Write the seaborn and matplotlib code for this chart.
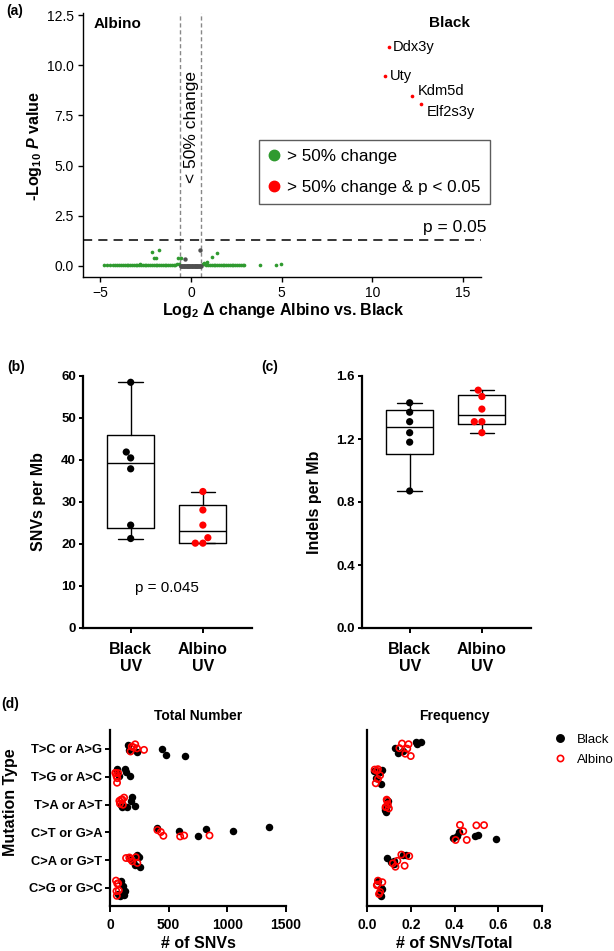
import numpy as np
import pandas as pd
import matplotlib
matplotlib.use("Agg")
import matplotlib.pyplot as plt
from matplotlib.lines import Line2D
import seaborn as sns

# ---------------- data ----------------
# (a) volcano plot
green_x = [-4.77, -4.62, -4.47, -4.30, -4.18, -4.05, -3.96, -3.85,
           -3.75, -3.65, -3.55, -3.45, -3.35, -3.25, -3.15, -3.05, -2.95, -2.85,
           -2.75, -2.65, -2.55, -2.45, -2.35, -2.25, -2.15, -2.05, -1.95, -1.85,
           -1.75, -1.65, -1.55, -1.45, -1.35, -1.25, -1.15, -1.05, -0.95, -0.85,
           -0.75, -0.65,
           0.65, 0.75, 0.85, 0.95, 1.05, 1.15, 1.25, 1.35, 1.45, 1.55, 1.65, 1.75,
           1.85, 1.95, 2.05, 2.15, 2.25, 2.35, 2.45, 2.55, 2.65, 2.75, 2.85, 2.92,
           -2.80, -2.12, -1.75, -2.02, -1.92, -0.70, -0.55, 0.70, 0.88, 1.16, 1.42,
           3.83, 4.71, 4.99]
green_y = [0.03, 0.03, 0.03, 0.03, 0.03, 0.03, 0.03, 0.03,
           0.03, 0.03, 0.03, 0.03, 0.03, 0.03, 0.03, 0.03, 0.03, 0.03,
           0.03, 0.03, 0.03, 0.03, 0.03, 0.03, 0.03, 0.03, 0.03, 0.03,
           0.03, 0.03, 0.03, 0.03, 0.03, 0.03, 0.03, 0.03, 0.03, 0.03,
           0.08, 0.10,
           0.10, 0.12, 0.03, 0.03, 0.03, 0.03, 0.03, 0.03, 0.03, 0.03, 0.03, 0.03,
           0.03, 0.03, 0.03, 0.03, 0.03, 0.03, 0.03, 0.03, 0.03, 0.03, 0.03, 0.03,
           0.10, 0.68, 0.80, 0.41, 0.41, 0.41, 0.38, 0.15, 0.22, 0.46, 0.65,
           0.05, 0.05, 0.10]
gray_x = [-0.56, -0.52, -0.48, -0.44, -0.40, -0.36, -0.32, -0.28, -0.24, -0.20,
          -0.16, -0.12, -0.08, -0.04, 0.00, 0.04, 0.08, 0.12, 0.16, 0.20,
          0.24, 0.28, 0.32, 0.36, 0.40, 0.44, 0.48, 0.52, 0.56, -0.35, 0.53]
gray_y = [0.02, 0.02, 0.02, 0.02, 0.02, 0.02, 0.02, 0.02, 0.02, 0.02,
          0.02, 0.02, 0.02, 0.02, 0.02, 0.02, 0.02, 0.02, 0.02, 0.02,
          0.02, 0.02, 0.02, 0.02, 0.02, 0.02, 0.02, 0.02, 0.02, 0.33, 0.80]
sig_genes = ["Ddx3y", "Uty", "Kdm5d", "Elf2s3y"]
sig_x = [10.9, 10.7, 12.2, 12.7]
sig_y = [10.9, 9.45, 8.45, 8.06]

# (b) SNVs per Mb, (c) Indels per Mb
groups = ["Black", "Albino"]
group_ticklabels = ["Black\nUV", "Albino\nUV"]
snv_black = [58.5, 41.9, 40.5, 37.9, 24.5, 21.3]
snv_albino = [32.5, 28.1, 24.5, 21.5, 20.2, 20.2]
indel_black = [1.43, 1.37, 1.31, 1.24, 1.18, 0.87]
indel_albino = [1.51, 1.47, 1.39, 1.31, 1.31, 1.24]

# (d) mutation spectra
mut_types = ["T>C or A>G", "T>G or A>C", "T>A or A>T",
             "C>T or G>A", "C>A or G>T", "C>G or G>C"]
total_black = [[160, 230, 157, 447, 475, 643],
               [63, 137, 126, 171, 57, 74],
               [102, 177, 142, 211, 188, 91],
               [404, 592, 814, 754, 1048, 1355],
               [199, 210, 250, 233, 165, 256],
               [85, 128, 120, 68, 108, 95]]
total_albino = [[175, 290, 185, 215, 200, 230],
                [45, 50, 55, 60, 62, 70],
                [80, 85, 95, 105, 110, 120],
                [433, 404, 455, 598, 632, 848],
                [137, 233, 165, 190, 220, 175],
                [51, 62, 58, 70, 55, 75]]
freq_black = [[0.142, 0.126, 0.163, 0.224, 0.248, 0.230],
              [0.030, 0.070, 0.056, 0.040, 0.060, 0.065],
              [0.080, 0.090, 0.085, 0.095, 0.088, 0.082],
              [0.413, 0.420, 0.395, 0.494, 0.507, 0.590],
              [0.108, 0.090, 0.123, 0.178, 0.163, 0.125],
              [0.055, 0.065, 0.060, 0.068, 0.050, 0.062]]
freq_albino = [[0.200, 0.175, 0.184, 0.148, 0.190, 0.160],
               [0.035, 0.040, 0.050, 0.045, 0.060, 0.050],
               [0.090, 0.100, 0.085, 0.095, 0.092, 0.088],
               [0.456, 0.440, 0.535, 0.425, 0.500, 0.405],
               [0.139, 0.172, 0.157, 0.193, 0.118, 0.130],
               [0.045, 0.050, 0.055, 0.048, 0.060, 0.070]]

# ---------------- style ----------------
sns.set_theme(style="ticks")
plt.rcParams["font.family"] = ["Liberation Sans", "DejaVu Sans"]
plt.rcParams.update({
    "mathtext.fontset": "custom",
    "mathtext.rm": "Liberation Sans:bold",
    "mathtext.it": "Liberation Sans:bold:italic",
    "mathtext.bf": "Liberation Sans:bold",
    "axes.edgecolor": "black",
    "xtick.color": "black",
    "ytick.color": "black",
    "text.color": "black",
})
np.random.seed(3)

W, H = 614, 951
fig = plt.figure(figsize=(W / 100, H / 100), dpi=100)


def px_axes(l, t, r, b):
    return fig.add_axes([l / W, 1 - b / H, (r - l) / W, (b - t) / H])


def ftext(x, y, s, **kw):
    return fig.text(x / W, 1 - y / H, s, **kw)


GREEN = "#2f9a2f"
GRAY = "#505050"

# ================= (a) =================
axa = px_axes(83, 13, 481, 277)
df_green = pd.DataFrame({"x": green_x, "y": green_y})
df_gray = pd.DataFrame({"x": gray_x, "y": gray_y})
df_sig = pd.DataFrame({"x": sig_x, "y": sig_y, "gene": sig_genes})
sns.scatterplot(data=df_green, x="x", y="y", color=GREEN, s=7, linewidth=0, ax=axa, zorder=3)
sns.scatterplot(data=df_gray, x="x", y="y", color=GRAY, s=10, linewidth=0, ax=axa, zorder=4)
sns.scatterplot(data=df_sig, x="x", y="y", color="red", s=7, linewidth=0, ax=axa, zorder=4)
axa.set_xlim(-5.95, 16)
axa.set_ylim(-0.55, 12.6)
axa.set_xticks([-5, 0, 5, 10, 15])
axa.set_yticks([0, 2.5, 5, 7.5, 10, 12.5])
axa.set_yticklabels(["0.0", "2.5", "5.0", "7.5", "10.0", "12.5"])
axa.set_xlabel("")
axa.set_ylabel("")
for sp in ["top", "right"]:
    axa.spines[sp].set_visible(False)
for sp in ["left", "bottom"]:
    axa.spines[sp].set_linewidth(1.0)
axa.tick_params(labelsize=10, length=3.5, width=1.0, pad=3, colors="black")
axa.axvline(-0.585, color="#888888", lw=1.0, ls=(0, (3, 2)), zorder=2)
axa.axvline(0.585, color="#888888", lw=1.0, ls=(0, (3, 2)), zorder=2)
axa.axhline(1.301, color="black", lw=1.1, ls=(0, (6, 4)), zorder=2)
axa.text(0.02, 6.9, "< 50% change", rotation=90, ha="center", va="center", fontsize=12.5)
axa.text(16.3, 1.9, "p = 0.05", ha="right", va="center", fontsize=12.5, clip_on=False)
axa.text(-5.36, 12.05, "Albino", ha="left", va="center", fontsize=11, fontweight="bold")
axa.text(13.15, 12.1, "Black", ha="left", va="center", fontsize=11, fontweight="bold")
label_pos = {"Ddx3y": (11.16, 10.9), "Uty": (11.0, 9.45),
             "Kdm5d": (12.5, 8.7), "Elf2s3y": (13.0, 7.66)}
for g in sig_genes:
    lx, ly = label_pos[g]
    axa.text(lx, ly, g, ha="left", va="center", fontsize=10.5)
handles_a = [Line2D([], [], marker="o", ls="", color=GREEN, markersize=7.5),
             Line2D([], [], marker="o", ls="", color="red", markersize=7.5)]
leg = axa.legend(handles_a, ["> 50% change", "> 50% change & p < 0.05"],
                 loc="upper left", bbox_to_anchor=(0.442, 0.519), fontsize=12.3,
                 frameon=True, fancybox=False, edgecolor="#333333",
                 handlelength=0.7, handletextpad=0.45, borderpad=0.52,
                 labelspacing=0.95, borderaxespad=0)
leg.get_frame().set_linewidth(1.0)
ftext(34, 146, r"-Log$_{10}$ $\mathit{P}$ value", rotation=90, ha="center", va="center",
      fontsize=11.5, fontweight="bold")
ftext(283, 311, r"Log$_{2}$ Δ change Albino vs. Black", ha="center", va="center",
      fontsize=11.5, fontweight="bold")
ftext(15, 11, "(a)", ha="center", va="center", fontsize=10, fontweight="bold")


# ================= (b), (c) =================
def box_panel(ax, black, albino, ylim, yticks, yticklabels, ylabel_pos, ylabel):
    vals = [black, albino]
    stats = []
    for v in vals:
        q1, med, q3 = np.percentile(v, [25, 50, 75], method="weibull")
        stats.append(dict(q1=q1, med=med, q3=q3, whislo=min(v), whishi=max(v), fliers=[]))
    lp = dict(color="black", linewidth=1.0)
    ax.bxp(stats, positions=[0, 1], widths=0.65, capwidths=0.34, showfliers=False,
           boxprops=lp, medianprops=lp, whiskerprops=lp, capprops=lp, manage_ticks=False)
    df = pd.DataFrame({"grp": ["Black"] * len(black) + ["Albino"] * len(albino),
                       "pos": [0] * len(black) + [1] * len(albino),
                       "val": black + albino})
    sns.swarmplot(data=df, x="pos", y="val", hue="grp", native_scale=True, orient="x",
                  palette={"Black": "black", "Albino": "red"}, size=5.2,
                  linewidth=0, legend=False, ax=ax, zorder=3)
    ax.set_xlim(-0.66, 1.68)
    ax.set_ylim(*ylim)
    ax.set_yticks(yticks)
    ax.set_yticklabels(yticklabels)
    ax.set_xticks([0, 1])
    ax.set_xticklabels(group_ticklabels)
    ax.set_xlabel("")
    ax.set_ylabel("")
    for sp in ["top", "right"]:
        ax.spines[sp].set_visible(False)
    for sp in ["left", "bottom"]:
        ax.spines[sp].set_linewidth(1.6)
    ax.tick_params(axis="y", labelsize=9.5, length=3, width=1.4, pad=2)
    ax.tick_params(axis="x", labelsize=11.5, length=3.5, width=1.4, pad=6.5)
    for lbl in ax.get_xticklabels() + ax.get_yticklabels():
        lbl.set_fontweight("bold")
    ftext(ylabel_pos[0], ylabel_pos[1], ylabel, rotation=90, ha="center", va="center",
          fontsize=11.5, fontweight="bold")


axb = px_axes(83, 376, 252, 628)
box_panel(axb, snv_black, snv_albino, (0, 60), [0, 10, 20, 30, 40, 50, 60],
          ["0", "10", "20", "30", "40", "50", "60"], (38, 502), "SNVs per Mb")
axb.text(0.5, 9.5, "p = 0.045", ha="center", va="center", fontsize=11)
ftext(16, 367, "(b)", ha="center", va="center", fontsize=10, fontweight="bold")

axc = px_axes(362, 376, 531, 628)
box_panel(axc, indel_black, indel_albino, (0, 1.6), [0, 0.4, 0.8, 1.2, 1.6],
          ["0.0", "0.4", "0.8", "1.2", "1.6"], (315, 502), "Indels per Mb")
ftext(270, 367, "(c)", ha="center", va="center", fontsize=10, fontweight="bold")

# ================= (d) =================
rows = []
for i, t in enumerate(mut_types):
    for j in range(6):
        rows.append(dict(type=t, ypos=i, group="Black", total=total_black[i][j], freq=freq_black[i][j]))
    for j in range(6):
        rows.append(dict(type=t, ypos=i, group="Albino", total=total_albino[i][j], freq=freq_albino[i][j]))
df_d = pd.DataFrame(rows)


def strip_panel(ax, col, xlim, xticks, xticklabels, title, xlabel_x, xlabel, show_y):
    for grp in ["Black", "Albino"]:
        sub = df_d[df_d["group"] == grp]
        n0 = len(ax.collections)
        if grp == "Black":
            sns.stripplot(data=sub, x=col, y="ypos", orient="h", native_scale=True,
                          color="black", size=5.4, jitter=0.3, linewidth=0, ax=ax, zorder=3)
        else:
            sns.stripplot(data=sub, x=col, y="ypos", orient="h", native_scale=True,
                          color="red", size=4.5, jitter=0.3, linewidth=1.2, ax=ax, zorder=3)
            for coll in ax.collections[n0:]:
                coll.set_facecolor("none")
                coll.set_edgecolor("red")
                coll.set_linewidth(1.2)
    ax.set_xlim(*xlim)
    ax.set_ylim(5.65, -0.68)
    ax.set_xticks(xticks)
    ax.set_xticklabels(xticklabels)
    ax.set_yticks(range(len(mut_types)))
    if show_y:
        ax.set_yticklabels(mut_types)
        ax.tick_params(axis="y", labelsize=9.3, length=3.5, width=1.4, pad=2)
    else:
        ax.set_yticklabels([])
        ax.tick_params(axis="y", length=0)
    ax.tick_params(axis="x", labelsize=10, length=4.3, width=1.4, pad=4)
    for lbl in ax.get_xticklabels() + ax.get_yticklabels():
        lbl.set_fontweight("bold")
    ax.set_xlabel("")
    ax.set_ylabel("")
    for sp in ["top", "right"]:
        ax.spines[sp].set_visible(False)
    for sp in ["left", "bottom"]:
        ax.spines[sp].set_linewidth(1.6)
    ax.text(0.5, 1 + 14 / 176, title, transform=ax.transAxes, ha="center", va="center",
            fontsize=10, fontweight="bold")
    ftext(xlabel_x, 944, xlabel, ha="center", va="center", fontsize=11.5, fontweight="bold")


axd1 = px_axes(110, 730, 286, 906)
strip_panel(axd1, "total", (0, 1500), [0, 500, 1000, 1500], ["0", "500", "1000", "1500"],
            "Total Number", 198, "# of SNVs", True)
ftext(11, 802, "Mutation Type", rotation=90, ha="center", va="center",
      fontsize=11.5, fontweight="bold")
ftext(10, 704, "(d)", ha="center", va="center", fontsize=10, fontweight="bold")

axd2 = px_axes(367, 730, 542, 906)
strip_panel(axd2, "freq", (0, 0.8), [0, 0.2, 0.4, 0.6, 0.8], ["0.0", "0.2", "0.4", "0.6", "0.8"],
            "Frequency", 454, "# of SNVs/Total", False)
handles_d = [Line2D([], [], marker="o", ls="", color="black", markersize=5.4),
             Line2D([], [], marker="o", ls="", markerfacecolor="none", markeredgecolor="red",
                    markeredgewidth=1.2, markersize=4.5)]
axd2.legend(handles_d, groups, loc="upper left", bbox_to_anchor=(1.035, 1.01),
            frameon=False, fontsize=9.5, handlelength=1.0, handletextpad=0.8,
            labelspacing=0.6, borderaxespad=0)

fig.savefig("out.png", dpi=100)
